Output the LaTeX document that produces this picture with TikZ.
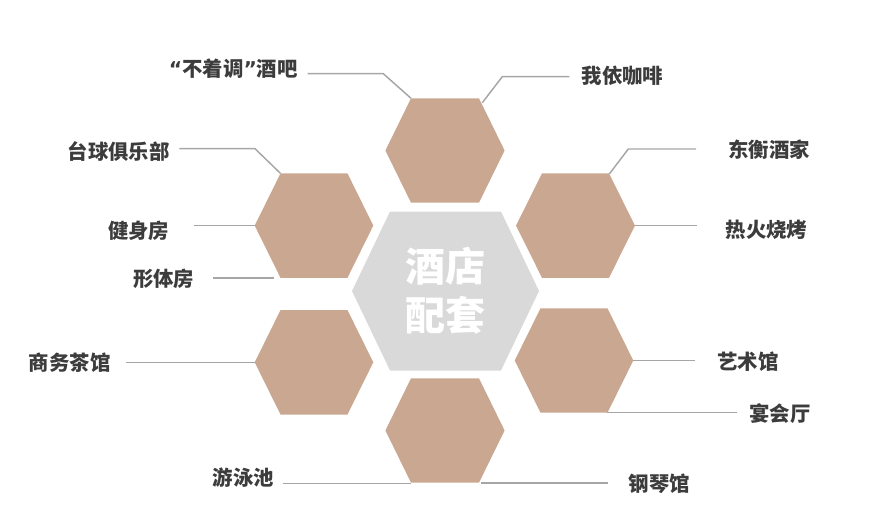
\documentclass[tikz,border=0pt]{standalone}
\usepackage{fontspec}
\setmainfont{Noto Sans CJK SC}
\newfontfamily\quotefont{DejaVu Sans}
\definecolor{hexfill}{HTML}{C9A790}
\definecolor{corefill}{HTML}{D9D9D9}
\definecolor{linegray}{HTML}{A6A6A6}
\definecolor{textgray}{HTML}{3C3C3C}
\newcommand\hexa[7]{%
  \begin{scope}[shift={(#2,#3)}]
    \coordinate (#1) at (0,0);
    \coordinate (#1-l) at (-#4,0);
    \coordinate (#1-r) at (#4,0);
    \coordinate (#1-tl) at (-#6,-#5);
    \coordinate (#1-tr) at (#6,-#5);
    \coordinate (#1-bl) at (-#6,#5);
    \coordinate (#1-br) at (#6,#5);
    \fill[#7] (#1-l) -- (#1-tl) -- (#1-tr) -- (#1-r) -- (#1-br) -- (#1-bl) -- cycle;
  \end{scope}}
\tikzset{
  lbl/.style={text=textgray, font=\fontsize{15.3pt}{18pt}\selectfont\bfseries, inner sep=0pt},
  conn/.style={draw=linegray, line width=1.1pt},
  coretext/.style={text=white, font=\fontsize{30pt}{36.75pt}\selectfont\bfseries, align=center, inner sep=0pt}
}
\begin{document}
\begin{tikzpicture}[x=0.75pt, y=-0.75pt]
\useasboundingbox (0,0) rectangle (883,525);
% hexagons
\hexa{core}{445.5}{291}{93.5}{79.5}{55.5}{corefill}
\hexa{top}{445}{150.5}{59.6}{52.2}{34}{hexfill}
\hexa{ul}{314}{225.6}{59.3}{52.2}{33.5}{hexfill}
\hexa{ur}{575.5}{225.6}{59.5}{52.2}{33.5}{hexfill}
\hexa{ll}{314}{362.3}{59.3}{52.2}{33.5}{hexfill}
\hexa{lr}{574}{360.5}{59.3}{52.2}{33.5}{hexfill}
\hexa{bot}{445}{430.5}{59.6}{52.2}{34}{hexfill}
\node[coretext] (coretxt) at (core) {酒店\\配套};
% labels
\node[lbl] (bar) at (233.3,68.7) {{\quotefont “}不着调{\quotefont ”}酒吧};
\node[lbl] (cafe) at (622.5,75.5) {我依咖啡};
\node[lbl] (billiard) at (118.7,151.7) {台球俱乐部};
\node[lbl] (dongheng) at (769.2,149.7) {东衡酒家};
\node[lbl] (gym) at (138.7,230.5) {健身房};
\node[lbl] (bbq) at (766.5,230) {热火烧烤};
\node[lbl] (body) at (163.7,279) {形体房};
\node[lbl] (tea) at (69.7,362.3) {商务茶馆};
\node[lbl] (art) at (748,361.7) {艺术馆};
\node[lbl] (banquet) at (780,413.3) {宴会厅};
\node[lbl] (pool) at (243.3,478) {游泳池};
\node[lbl] (piano) at (659.3,483.3) {钢琴馆};
% connector ends
\coordinate (c1) at (307.7,73.7);
\coordinate (c1b) at (383.3,73.7);
\coordinate (c2a) at (482.3,102.7);
\coordinate (c2b) at (502.3,76.7);
\coordinate (c2) at (569.3,76.7);
\coordinate (c3) at (179.3,148.7);
\coordinate (c3b) at (255,148.7);
\coordinate (c4a) at (609.3,174);
\coordinate (c4b) at (628.3,149);
\coordinate (c4) at (696,149);
\coordinate (c5) at (194,225.6);
\coordinate (c6) at (696.7,225.6);
\coordinate (c7) at (213.3,278);
\coordinate (c7b) at (274,278);
\coordinate (c8) at (126,362.3);
\coordinate (c9) at (695,360.5);
\coordinate (c10) at (736.7,412.7);
\coordinate (c10a) at (607.3,412.7);
\coordinate (c11) at (283,483.5);
\coordinate (c11b) at (411,483.5);
\coordinate (c12a) at (480.7,483);
\coordinate (c12) at (608.3,483);
% connectors
\draw[conn] (c1) -- (c1b) -- (top-tl);
\draw[conn] (c2a) -- (c2b) -- (c2);
\draw[conn] (c3) -- (c3b) -- (ul-tl);
\draw[conn] (c4a) -- (c4b) -- (c4);
\draw[conn] (c5) -- (ul-l);
\draw[conn] (ur-r) -- (c6);
\draw[conn] (c7) -- (c7b);
\draw[conn] (c8) -- (ll-l);
\draw[conn] (lr-r) -- (c9);
\draw[conn] (c10a) -- (c10);
\draw[conn] (c11) -- (c11b);
\draw[conn] (c12a) -- (c12);
\end{tikzpicture}
\end{document}
